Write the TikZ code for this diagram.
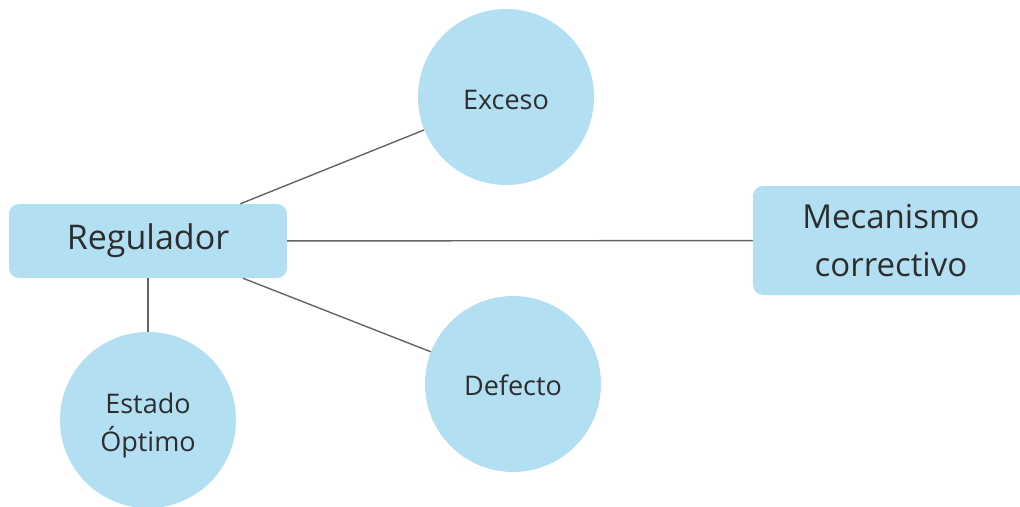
\documentclass[tikz,border=0pt]{standalone}
\usepackage{fontspec}
\setmainfont{Open Sans}
\definecolor{nodefill}{RGB}{179,223,242}
\definecolor{linkcol}{RGB}{100,100,100}
\definecolor{txtcol}{RGB}{45,45,45}
\newcommand{\lowered}[2]{\raisebox{-#1}[\height][\depth]{#2}}
\tikzset{
  box/.style={draw=none, fill=nodefill, rounded corners=10pt, inner sep=0pt, text=txtcol, align=center},
  bubble/.style={circle, draw=none, fill=nodefill, minimum size=176pt, inner sep=0pt, text=txtcol, align=center, font=\fontsize{27}{38}\selectfont},
  link/.style={draw=linkcol, line width=1.4pt}
}
\begin{document}
\begin{tikzpicture}[x=1pt, y=-1pt]
\useasboundingbox (0,0) rectangle (1020,506);
\node[box, minimum width=278pt, minimum height=74pt, font=\fontsize{34}{40}\selectfont] (reg) at (148,241) {Regulador};
\node[box, minimum width=276pt, minimum height=109pt, font=\fontsize{33}{48}\selectfont] (mec) at (891,240.5) {Mecanismo\\correctivo};
\node[bubble] (exc) at (506,97) {\lowered{3pt}{Exceso}};
\node[bubble] (def) at (513,384) {\lowered{1pt}{Defecto}};
\node[bubble] (est) at (148,420) {\lowered{5pt}{Estado}\\\lowered{5pt}{Óptimo}};
\draw[link] (reg) -- (exc);
\draw[link] (reg) -- (def);
\draw[link] (reg) -- (mec);
\draw[link] (reg) -- (est);
\end{tikzpicture}
\end{document}
